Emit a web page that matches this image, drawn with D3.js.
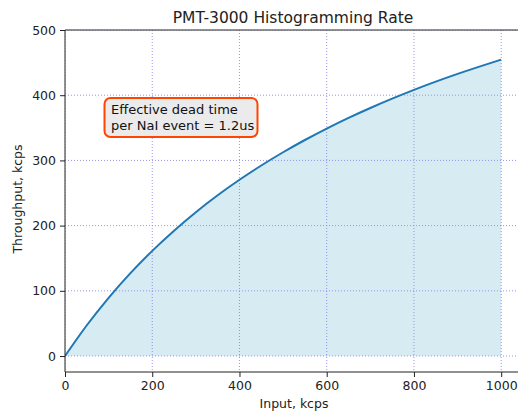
<!DOCTYPE html>
<html><head><meta charset="utf-8">
<script src="https://cdn.jsdelivr.net/npm/d3@7"></script>
<style>body{margin:0;background:#fff;} svg{display:block;font-family:"DejaVu Sans",sans-serif;}</style>
</head><body>
<svg id="c" width="518" height="414"></svg>
<script>
// Data
const inputKcps = [0,50,100,150,200,250,300,350,400,450,500,550,600,650,700,750,800,850,900,950,1000];
const throughputKcps = [0,47.2,89.3,127.1,161.3,192.3,220.6,246.5,270.3,292.2,312.5,331.3,348.8,365.2,380.4,394.7,408.2,420.8,432.7,443.9,454.5];
const xTicks = [0,200,400,600,800,1000];
const yTicks = [0,100,200,300,400,500];
const titleText = "PMT-3000 Histogramming Rate";
const xLabel = "Input, kcps";
const yLabel = "Throughput, kcps";
const noteLines = ["Effective dead time","per NaI event = 1.2us"];

const svg = d3.select("#c");
const L=65, T=30, R=523, B=372;
const x = d3.scaleLinear().domain([0,1050]).range([L,R]);
const y = d3.scaleLinear().domain([-24.5,500]).range([B,T]);
const data = inputKcps.map((v,i)=>({x:v,y:throughputKcps[i]}));

svg.append("defs").append("clipPath").attr("id","pa")
  .append("rect").attr("x",L).attr("y",T).attr("width",R-L).attr("height",B-T);
const g = svg.append("g").attr("clip-path","url(#pa)");

g.append("path").datum(data)
  .attr("d", d3.area().x(d=>x(d.x)).y0(y(0)).y1(d=>y(d.y)).curve(d3.curveMonotoneX))
  .attr("fill","#d6ebf2");

g.selectAll(".gx").data(xTicks).join("line")
  .attr("x1",d=>x(d)).attr("x2",d=>x(d)).attr("y1",T).attr("y2",B)
  .attr("stroke","#8a8aea").attr("stroke-width",0.9).attr("stroke-dasharray","1,2");
g.selectAll(".gy").data(yTicks).join("line")
  .attr("y1",d=>y(d)).attr("y2",d=>y(d)).attr("x1",L).attr("x2",R)
  .attr("stroke","#8a8aea").attr("stroke-width",0.9).attr("stroke-dasharray","1,2");

g.append("path").datum(data)
  .attr("d", d3.line().x(d=>x(d.x)).y(d=>y(d.y)).curve(d3.curveMonotoneX))
  .attr("fill","none").attr("stroke","#1f77b4").attr("stroke-width",2);

const xa = svg.append("g").attr("transform",`translate(0,${B})`)
  .call(d3.axisBottom(x).tickValues(xTicks).tickSize(5).tickPadding(4).tickFormat(d3.format("d")));
const ya = svg.append("g").attr("transform",`translate(${L},0)`)
  .call(d3.axisLeft(y).tickValues(yTicks).tickSize(5).tickPadding(4).tickFormat(d3.format("d")));
[xa,ya].forEach(a=>{
  a.selectAll("text").attr("font-size","12.5px").attr("fill","#222").attr("font-family","DejaVu Sans");
  a.selectAll("line").attr("stroke","#222");
  a.select(".domain").remove();
});
svg.append("line").attr("x1",L).attr("x2",L).attr("y1",T).attr("y2",B).attr("stroke","#222").attr("stroke-width",1);
svg.append("line").attr("x1",L).attr("x2",R).attr("y1",B).attr("y2",B).attr("stroke","#222").attr("stroke-width",1);
svg.append("line").attr("x1",L).attr("x2",R).attr("y1",T).attr("y2",T).attr("stroke","#222").attr("stroke-width",1);

svg.append("text").attr("x",(L+R)/2 - 1).attr("y",23).attr("text-anchor","middle")
  .attr("font-size","15.5px").attr("fill","#222").text(titleText);
svg.append("text").attr("x",(L+R)/2).attr("y",408).attr("text-anchor","middle")
  .attr("font-size","12.5px").attr("fill","#222").text(xLabel);
svg.append("text").attr("transform",`translate(22,${(T+B)/2 - 2}) rotate(-90)`).attr("text-anchor","middle")
  .attr("font-size","12.5px").attr("fill","#222").text(yLabel);

svg.append("rect").attr("x",104.5).attr("y",98).attr("width",153).attr("height",39)
  .attr("rx",6).attr("fill","#ebebeb").attr("stroke","#ff4500").attr("stroke-width",2);
svg.append("text").attr("x",111).attr("y",114).attr("font-size","13px").attr("fill","#111")
  .selectAll("tspan").data(noteLines).join("tspan").attr("x",111).attr("dy",(d,i)=>i?15.5:0).text(d=>d);
</script>
</body></html>
